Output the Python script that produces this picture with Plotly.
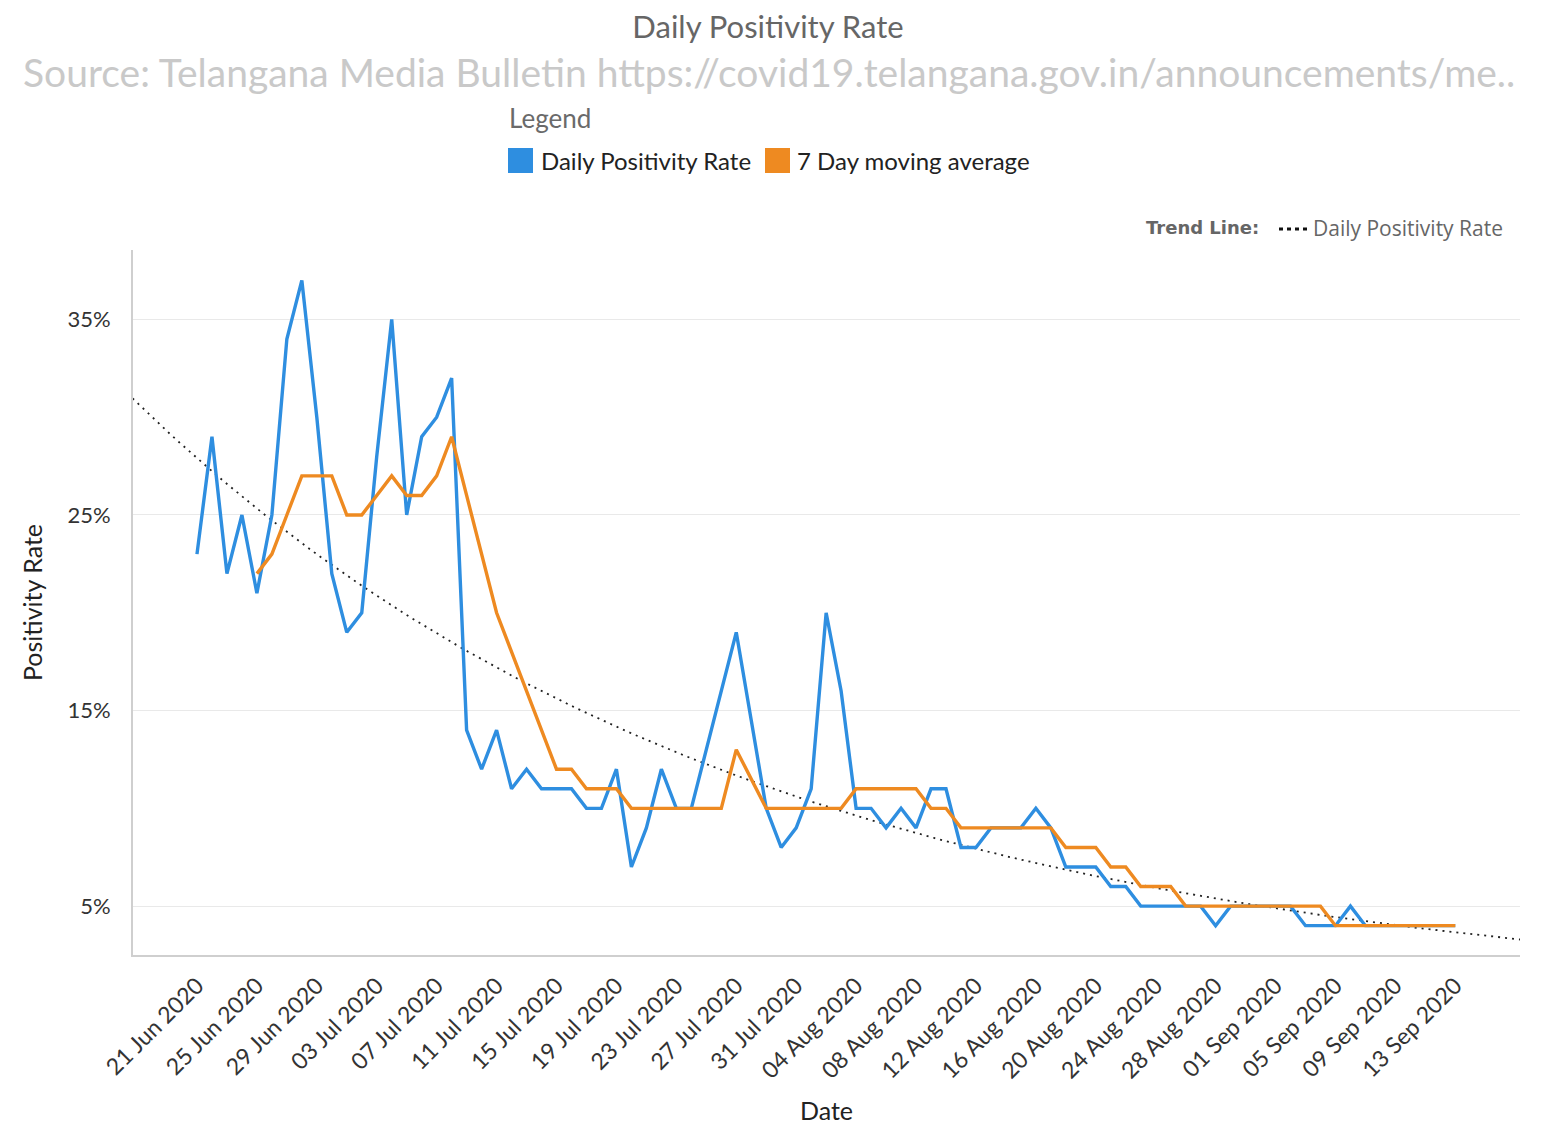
import numpy as np
import pandas as pd
import plotly.graph_objects as go

# ── Data ────────────────────────────────────────────────────────────────────
start_date = "2020-06-21"
dates = pd.date_range(start_date, "2020-09-13", freq="D")

daily_rate = [
    23, 29, 22, 25, 21, 25, 34, 37, 30, 22, 19, 20, 28, 35, 25, 29, 30, 32,
    14, 12, 14, 11, 12, 11, 11, 11, 10, 10, 12, 7, 9, 12, 10, 10, 13, 16,
    19, 14.5, 10, 8, 9, 11, 20, 16, 10, 10, 9, 10, 9, 11, 11, 8, 8, 9, 9,
    9, 10, 9, 7, 7, 7, 6, 6, 5, 5, 5, 5, 5, 4, 5, 5, 5, 5, 5, 4, 4, 4, 5,
    4, 4, 4, 4, 4, 4, 4,
]

moving_avg = [
    None, None, None, None, 22, 23, 25, 27, 27, 27, 25, 25, 26, 27, 26, 26,
    27, 29, 26, 23, 20, 18, 16, 14, 12, 12, 11, 11, 11, 10, 10, 10, 10, 10,
    10, 10, 13, 11.5, 10, 10, 10, 10, 10, 10, 11, 11, 11, 11, 11, 10, 10, 9,
    9, 9, 9, 9, 9, 9, 8, 8, 8, 7, 7, 6, 6, 6, 5, 5, 5, 5, 5, 5, 5, 5, 5, 5,
    4, 4, 4, 4, 4, 4, 4, 4, 4,
]

tick_dates = pd.date_range(start_date, "2020-09-13", freq="4D")
y_ticks = [5, 15, 25, 35]
y_tick_text = ["5%", "15%", "25%", "35%"]

BLUE = "#2E8EE0"
ORANGE = "#EE8A21"
FONT = "Lato, 'Open Sans', sans-serif"

# ── Exponential trend fitted on the daily series ────────────────────────────
day_idx = np.arange(len(daily_rate))
slope, intercept = np.polyfit(day_idx, np.log(np.array(daily_rate, dtype=float)), 1)
t_trend = np.linspace(-4.3, 88.4, 150)
trend_x = pd.Timestamp(start_date) + pd.to_timedelta(t_trend, unit="D")
trend_y = np.exp(intercept + slope * t_trend)

fig = go.Figure()
fig.add_trace(go.Scatter(
    x=trend_x, y=trend_y, mode="lines", name="Trend",
    line=dict(color="#222222", width=1.8, dash="2px,5px"),
    showlegend=False, hoverinfo="skip",
))
fig.add_trace(go.Scatter(
    x=dates, y=daily_rate, mode="lines", name="Daily Positivity Rate",
    line=dict(color=BLUE, width=3.4), showlegend=False,
))
fig.add_trace(go.Scatter(
    x=dates, y=moving_avg, mode="lines", name="7 Day moving average",
    line=dict(color=ORANGE, width=3.4), showlegend=False,
))

# ── Layout geometry: page has an 8px body margin; plot area 133..1520 x 250..955
OFF = 8
W, H = 1534, 1117
L, T = 133 - OFF, 250 - OFF
R = OFF + W - 1520
B = OFF + H - 955
PW, PH = W - L - R, H - T - B


def px(x):
    return (x - OFF - L) / PW


def py(y):
    return (OFF + H - B - y) / PH


annotations = [
    dict(text="Source: Telangana Media Bulletin https://covid19.telangana.gov.in/announcements/me..",
         x=px(769), y=py(72), font=dict(size=39, color="#C9C9C9")),
    dict(text="Legend", x=px(507), y=py(118), xanchor="left",
         font=dict(size=26, color="#6A6A6A")),
    dict(text="Daily Positivity Rate", x=px(539), y=py(160), xanchor="left",
         font=dict(size=24, color="#222222")),
    dict(text="7 Day moving average", x=px(795), y=py(160), xanchor="left",
         font=dict(size=24, color="#222222")),
    dict(text="<b>Trend Line:</b>", x=px(1261), y=py(228), xanchor="right",
         font=dict(size=18, color="#666666", family="'DejaVu Sans', sans-serif")),
    dict(text="Daily Positivity Rate", x=px(1311), y=py(228), xanchor="left",
         font=dict(size=21, color="#666666", family="'Open Sans', sans-serif")),
]
for a in annotations:
    a.update(xref="paper", yref="paper", showarrow=False, yanchor="middle")
    a.setdefault("xanchor", "center")

shapes = [
    dict(type="rect", x0=px(508), x1=px(533), y0=py(173), y1=py(148),
         fillcolor=BLUE, line=dict(width=0)),
    dict(type="rect", x0=px(765), x1=px(790), y0=py(173), y1=py(148),
         fillcolor=ORANGE, line=dict(width=0)),
    dict(type="line", x0=px(1279), x1=px(1307), y0=py(229), y1=py(229),
         line=dict(color="#111111", width=3, dash="4px,4px")),
]
for s in shapes:
    s.update(xref="paper", yref="paper")

fig.update_layout(
    width=W, height=H,
    margin=dict(l=L, r=R, t=T, b=B),
    paper_bgcolor="white", plot_bgcolor="white",
    font=dict(family=FONT, size=20, color="#333333"),
    title=dict(text="Daily Positivity Rate", x=(768 - OFF) / W, xanchor="center",
               y=1 - (27 - OFF) / H, yanchor="middle", yref="container",
               font=dict(size=31, color="#666666")),
    annotations=annotations,
    shapes=shapes,
    hovermode="x unified",
)
fig.update_xaxes(
    type="date",
    range=["2020-06-16 17:30", "2020-09-17 07:40"],
    tickvals=tick_dates, tickformat="%d %b %Y", tickangle=-45,
    tickfont=dict(size=23, color="#333333"),
    ticklabelstandoff=6,
    showgrid=False, zeroline=False,
    showline=True, linecolor="#CFCFCF", linewidth=2,
    automargin=False,
    title=dict(text="Date", font=dict(size=25, color="#222222"), standoff=22),
)
fig.update_yaxes(
    range=[2.5, 38.55],
    tickvals=y_ticks, ticktext=y_tick_text,
    tickfont=dict(size=22, color="#333333"),
    ticklabelstandoff=16,
    showgrid=True, gridcolor="#E9E9E9", gridwidth=1,
    zeroline=False,
    showline=True, linecolor="#CFCFCF", linewidth=2,
    automargin=False,
    title=dict(text="Positivity Rate", font=dict(size=25, color="#222222"), standoff=18),
)

fig.write_html("out.html")
